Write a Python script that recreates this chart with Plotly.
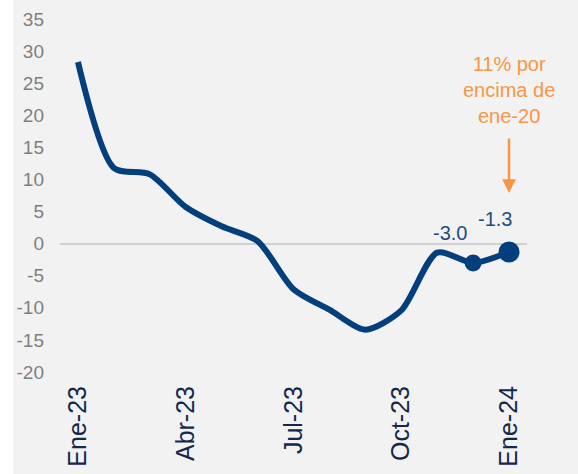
import plotly.graph_objects as go

months = ["Ene-23", "Feb-23", "Mar-23", "Abr-23", "May-23", "Jun-23", "Jul-23",
          "Ago-23", "Sep-23", "Oct-23", "Nov-23", "Dic-23", "Ene-24"]
values = [28.3, 11.8, 10.8, 5.7, 2.7, 0.4, -7.1, -10.3, -13.4, -10.4, -1.4, -3.0, -1.3]
tick_idx = [0, 3, 6, 9, 12]
tick_labels = ["Ene-23", "Abr-23", "Jul-23", "Oct-23", "Ene-24"]
y_ticks = list(range(-20, 36, 5))
y_tick_labels = [str(v) for v in y_ticks]
highlight_idx = [11, 12]
highlight_labels = ["-3.0", "-1.3"]
note_text = "11% por<br>encima de<br>ene-20"

NAVY = "#043f7d"
ORANGE = "#f79646"
FONT = "Liberation Sans, Arial, sans-serif"

x = list(range(len(months)))

fig = go.Figure()
fig.add_trace(go.Scatter(
    x=x, y=values, mode="lines",
    line=dict(color=NAVY, width=6, shape="spline", smoothing=0.75),
    hoverinfo="skip", showlegend=False,
))
fig.add_trace(go.Scatter(
    x=highlight_idx, y=[values[i] for i in highlight_idx], mode="markers",
    marker=dict(color=NAVY, size=[17, 21], opacity=1, line=dict(width=0)),
    hoverinfo="skip", showlegend=False,
))

# data labels
shifts = [(-23, 30), (-14, 33)]
for i, lab, (dx, dy) in zip(highlight_idx, highlight_labels, shifts):
    fig.add_annotation(x=i, y=values[i], text=lab, showarrow=False,
                       xshift=dx, yshift=dy,
                       font=dict(family=FONT, size=20, color="#1f4e79"))

# orange note and arrow
fig.add_annotation(x=12, y=23.9, text=note_text, showarrow=False,
                   xanchor="center", yanchor="middle",
                   font=dict(family=FONT, size=20, color=ORANGE))
fig.add_annotation(x=12, y=7.9, text="", showarrow=True, ax=0, ay=-56,
                   arrowhead=2, arrowsize=1.1, arrowwidth=2.5, arrowcolor=ORANGE,
                   standoff=0)

# white strip on the left edge
fig.add_shape(type="rect", xref="paper", yref="paper",
              x0=-0.1285, x1=-0.0996, y0=-0.5, y1=1.5,
              fillcolor="white", line=dict(width=0), layer="below")

fig.update_layout(
    width=578, height=474, autosize=False,
    margin=dict(l=60, r=51, t=19, b=102, pad=0),
    paper_bgcolor="#f2f2f2", plot_bgcolor="#f2f2f2",
    font=dict(family=FONT),
)
fig.update_xaxes(
    range=[-0.5, 12.5], tickmode="array", tickvals=tick_idx, ticktext=tick_labels,
    tickangle=-90, showgrid=False, zeroline=False, showline=False, ticks="",
    tickfont=dict(family=FONT, size=25, color="#14284b"),
    ticklabelstandoff=8, automargin=False,
)
fig.update_yaxes(
    range=[-20, 35], tickmode="array", tickvals=y_ticks, ticktext=y_tick_labels,
    showgrid=False, zeroline=True, zerolinecolor="#d0d0d0", zerolinewidth=2,
    showline=False, ticks="",
    tickfont=dict(family=FONT, size=19, color="#7f7f7f"),
    ticklabelstandoff=15, automargin=False,
)

fig.write_html("out.html",
               config={"displayModeBar": False, "staticPlot": True},
               post_script="document.body.style.margin='0';document.body.style.padding='0';")
